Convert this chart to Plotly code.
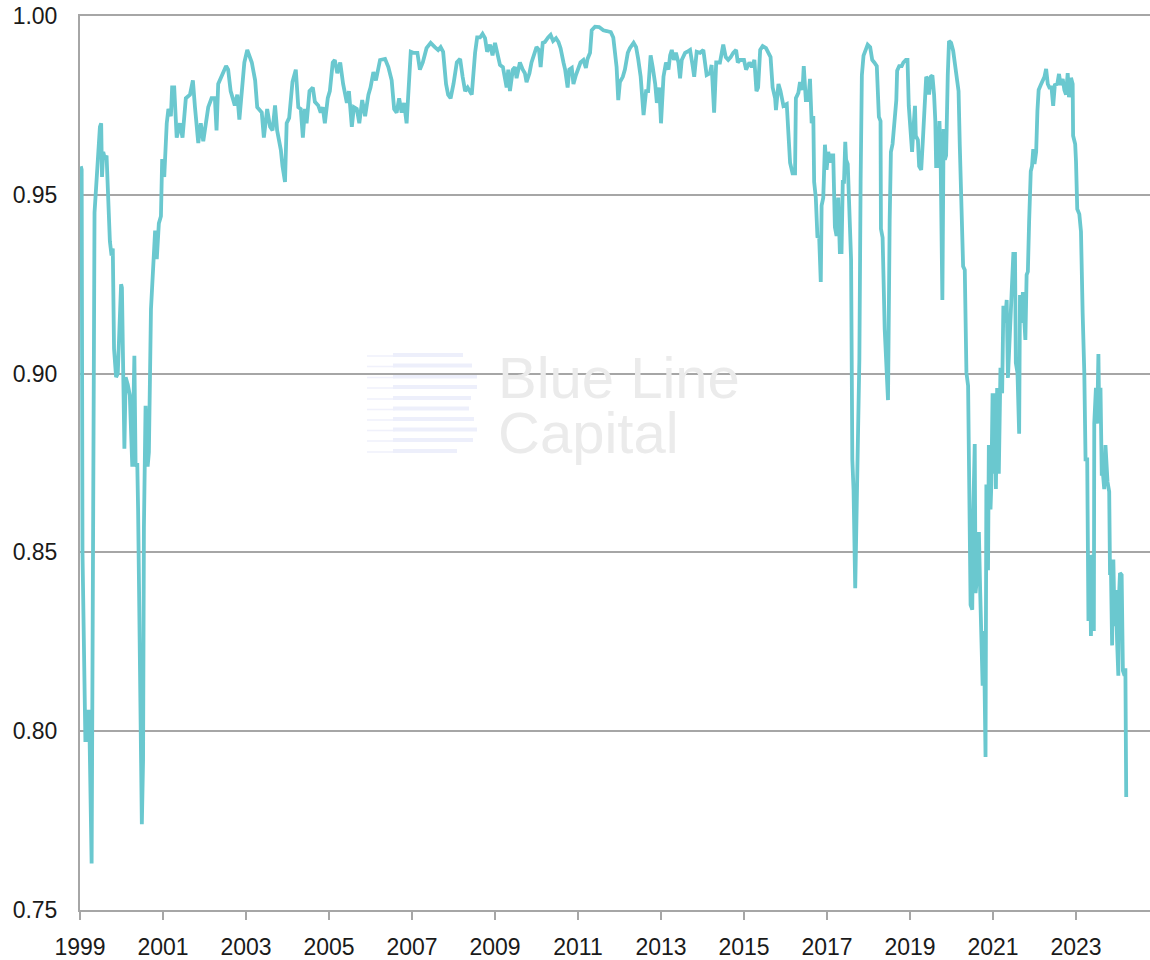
import plotly.graph_objects as go

# Decimal-year positions and correlation values
years = [
    1999.02, 1999.04, 1999.06, 1999.10, 1999.13, 1999.16, 1999.19, 1999.22, 1999.28, 1999.35,
    1999.40, 1999.44, 1999.48, 1999.51, 1999.53, 1999.56, 1999.60, 1999.64, 1999.68, 1999.72,
    1999.76, 1999.79, 1999.82, 1999.87, 1999.91, 1999.95, 1999.99, 2000.01, 2000.04, 2000.07,
    2000.10, 2000.15, 2000.20, 2000.26, 2000.31, 2000.34, 2000.38, 2000.40, 2000.49, 2000.52,
    2000.54, 2000.58, 2000.63, 2000.66, 2000.71, 2000.77, 2000.81, 2000.85, 2000.90, 2000.95,
    2000.98, 2001.03, 2001.09, 2001.13, 2001.19, 2001.22, 2001.27, 2001.33, 2001.41, 2001.47,
    2001.55, 2001.65, 2001.72, 2001.77, 2001.85, 2001.91, 2001.97, 2002.09, 2002.17, 2002.25,
    2002.29, 2002.33, 2002.41, 2002.52, 2002.57, 2002.63, 2002.73, 2002.79, 2002.84, 2002.90,
    2002.96, 2003.03, 2003.14, 2003.22, 2003.27, 2003.38, 2003.43, 2003.51, 2003.58, 2003.64,
    2003.70, 2003.75, 2003.84, 2003.88, 2003.94, 2003.98, 2004.04, 2004.12, 2004.20, 2004.26,
    2004.32, 2004.37, 2004.42, 2004.46, 2004.53, 2004.61, 2004.66, 2004.74, 2004.80, 2004.85,
    2004.90, 2004.97, 2005.02, 2005.09, 2005.14, 2005.20, 2005.27, 2005.34, 2005.43, 2005.48,
    2005.55, 2005.60, 2005.67, 2005.73, 2005.80, 2005.87, 2005.95, 2006.00, 2006.07, 2006.13,
    2006.23, 2006.35, 2006.43, 2006.51, 2006.57, 2006.63, 2006.69, 2006.75, 2006.81, 2006.87,
    2006.97, 2007.03, 2007.13, 2007.19, 2007.26, 2007.35, 2007.45, 2007.55, 2007.63, 2007.69,
    2007.75, 2007.82, 2007.87, 2007.93, 2008.00, 2008.08, 2008.16, 2008.22, 2008.28, 2008.34,
    2008.40, 2008.44, 2008.52, 2008.57, 2008.64, 2008.70, 2008.76, 2008.81, 2008.88, 2008.94,
    2009.00, 2009.06, 2009.12, 2009.19, 2009.24, 2009.28, 2009.32, 2009.36, 2009.43, 2009.48,
    2009.52, 2009.60, 2009.67, 2009.72, 2009.76, 2009.83, 2009.88, 2009.94, 2010.00, 2010.06,
    2010.10, 2010.15, 2010.20, 2010.28, 2010.34, 2010.40, 2010.47, 2010.53, 2010.58, 2010.65,
    2010.69, 2010.75, 2010.79, 2010.85, 2010.89, 2010.95, 2011.01, 2011.06, 2011.13, 2011.19,
    2011.23, 2011.29, 2011.33, 2011.41, 2011.51, 2011.61, 2011.69, 2011.79, 2011.85, 2011.89,
    2011.93, 2011.97, 2012.01, 2012.08, 2012.13, 2012.20, 2012.25, 2012.34, 2012.40, 2012.45,
    2012.51, 2012.58, 2012.64, 2012.69, 2012.75, 2012.80, 2012.86, 2012.90, 2012.96, 2013.00,
    2013.06, 2013.12, 2013.18, 2013.22, 2013.26, 2013.31, 2013.36, 2013.42, 2013.46, 2013.50,
    2013.58, 2013.63, 2013.70, 2013.76, 2013.80, 2013.86, 2013.94, 2014.02, 2014.10, 2014.18,
    2014.22, 2014.28, 2014.33, 2014.42, 2014.50, 2014.56, 2014.62, 2014.68, 2014.74, 2014.81,
    2014.85, 2014.90, 2015.00, 2015.05, 2015.13, 2015.19, 2015.25, 2015.30, 2015.34, 2015.39,
    2015.45, 2015.53, 2015.59, 2015.64, 2015.69, 2015.75, 2015.77, 2015.83, 2015.88, 2015.95,
    2016.03, 2016.07, 2016.11, 2016.17, 2016.23, 2016.25, 2016.31, 2016.35, 2016.41, 2016.44,
    2016.49, 2016.55, 2016.59, 2016.63, 2016.67, 2016.69, 2016.73, 2016.77, 2016.81, 2016.85,
    2016.87, 2016.91, 2016.95, 2016.99, 2017.03, 2017.07, 2017.11, 2017.15, 2017.19, 2017.23,
    2017.27, 2017.31, 2017.35, 2017.38, 2017.41, 2017.44, 2017.46, 2017.50, 2017.54, 2017.58,
    2017.61, 2017.64, 2017.68, 2017.72, 2017.75, 2017.78, 2017.81, 2017.84, 2017.88, 2017.93,
    2017.98, 2018.04, 2018.09, 2018.14, 2018.20, 2018.25, 2018.29, 2018.30, 2018.34, 2018.39,
    2018.43, 2018.47, 2018.51, 2018.54, 2018.58, 2018.61, 2018.65, 2018.67, 2018.69, 2018.74,
    2018.80, 2018.84, 2018.90, 2018.94, 2018.97, 2019.02, 2019.05, 2019.08, 2019.12, 2019.14,
    2019.19, 2019.22, 2019.27, 2019.31, 2019.34, 2019.39, 2019.43, 2019.46, 2019.50, 2019.54,
    2019.58, 2019.61, 2019.63, 2019.67, 2019.71, 2019.74, 2019.78, 2019.81, 2019.84, 2019.87,
    2019.91, 2019.94, 2019.99, 2020.04, 2020.07, 2020.12, 2020.17, 2020.20, 2020.24, 2020.28,
    2020.32, 2020.36, 2020.40, 2020.43, 2020.46, 2020.50, 2020.52, 2020.56, 2020.58, 2020.62,
    2020.66, 2020.69, 2020.72, 2020.75, 2020.78, 2020.82, 2020.84, 2020.88, 2020.90, 2020.94,
    2020.96, 2020.99, 2021.02, 2021.05, 2021.07, 2021.10, 2021.14, 2021.18, 2021.22, 2021.25,
    2021.29, 2021.33, 2021.36, 2021.41, 2021.45, 2021.49, 2021.53, 2021.55, 2021.59, 2021.63,
    2021.65, 2021.69, 2021.72, 2021.75, 2021.78, 2021.81, 2021.84, 2021.87, 2021.91, 2021.94,
    2021.97, 2022.00, 2022.04, 2022.07, 2022.10, 2022.15, 2022.20, 2022.24, 2022.28, 2022.32,
    2022.36, 2022.41, 2022.45, 2022.49, 2022.55, 2022.59, 2022.63, 2022.68, 2022.72, 2022.76,
    2022.80, 2022.83, 2022.88, 2022.92, 2022.93, 2022.98, 2023.00, 2023.03, 2023.08, 2023.12,
    2023.16, 2023.20, 2023.23, 2023.27, 2023.30, 2023.34, 2023.36, 2023.40, 2023.43, 2023.44,
    2023.48, 2023.51, 2023.54, 2023.56, 2023.59, 2023.62, 2023.65, 2023.68, 2023.71, 2023.76,
    2023.80, 2023.82, 2023.84, 2023.87, 2023.90, 2023.93, 2023.96, 2023.99, 2024.02, 2024.04,
    2024.06, 2024.10, 2024.13, 2024.17, 2024.19, 2024.21,
]

correlation = [
    0.958, 0.957, 0.850, 0.806, 0.797, 0.806, 0.797, 0.806, 0.763, 0.945,
    0.955, 0.960, 0.969, 0.970, 0.955, 0.962, 0.960, 0.961, 0.951, 0.937,
    0.933, 0.935, 0.907, 0.899, 0.900, 0.916, 0.925, 0.924, 0.900, 0.879,
    0.899, 0.897, 0.894, 0.874, 0.905, 0.874, 0.875, 0.862, 0.774, 0.792,
    0.857, 0.891, 0.874, 0.878, 0.918, 0.930, 0.940, 0.932, 0.942, 0.944,
    0.960, 0.955, 0.970, 0.974, 0.972, 0.980, 0.980, 0.966, 0.970, 0.966,
    0.977, 0.978, 0.982, 0.9745, 0.9645, 0.970, 0.965, 0.9745, 0.977, 0.977,
    0.968, 0.981, 0.983, 0.986, 0.985, 0.979, 0.975, 0.978, 0.971, 0.980,
    0.987, 0.9905, 0.987, 0.982, 0.9745, 0.973, 0.966, 0.974, 0.969, 0.968,
    0.975, 0.968, 0.9625, 0.958, 0.9536, 0.970, 0.9715, 0.9816, 0.985, 0.9745,
    0.974, 0.966, 0.974, 0.970, 0.979, 0.980, 0.976, 0.975, 0.973, 0.9745,
    0.970, 0.977, 0.979, 0.987, 0.9877, 0.984, 0.987, 0.981, 0.9757, 0.979,
    0.969, 0.9745, 0.974, 0.970, 0.9765, 0.972, 0.978, 0.980, 0.9843, 0.982,
    0.9877, 0.988, 0.9857, 0.982, 0.974, 0.973, 0.977, 0.973, 0.9757, 0.970,
    0.990, 0.9897, 0.9897, 0.985, 0.987, 0.991, 0.9925, 0.9913, 0.9905, 0.9913,
    0.990, 0.981, 0.978, 0.977, 0.981, 0.987, 0.988, 0.983, 0.979, 0.980,
    0.9785, 0.978, 0.9897, 0.994, 0.994, 0.995, 0.9938, 0.990, 0.992, 0.989,
    0.9925, 0.9897, 0.9863, 0.9857, 0.983, 0.980, 0.985, 0.979, 0.985, 0.9857,
    0.9826, 0.987, 0.985, 0.984, 0.9815, 0.984, 0.987, 0.989, 0.9913, 0.9905,
    0.9857, 0.9925, 0.9927, 0.994, 0.9947, 0.993, 0.9938, 0.9927, 0.991, 0.987,
    0.985, 0.980, 0.985, 0.9855, 0.981, 0.9835, 0.9855, 0.987, 0.9877, 0.9855,
    0.988, 0.9897, 0.996, 0.997, 0.9969, 0.996, 0.9958, 0.9955, 0.994, 0.9905,
    0.9857, 0.9765, 0.9815, 0.983, 0.985, 0.9897, 0.991, 0.9925, 0.9913, 0.988,
    0.983, 0.9723, 0.979, 0.979, 0.989, 0.9857, 0.981, 0.9757, 0.980, 0.970,
    0.983, 0.987, 0.985, 0.989, 0.9905, 0.9877, 0.9897, 0.987, 0.9826, 0.9877,
    0.9897, 0.990, 0.9905, 0.9863, 0.983, 0.990, 0.9897, 0.9905, 0.9835, 0.984,
    0.9863, 0.973, 0.987, 0.987, 0.992, 0.9885, 0.9877, 0.9885, 0.9897, 0.9905,
    0.987, 0.9877, 0.9877, 0.985, 0.987, 0.9857, 0.9877, 0.979, 0.980, 0.9905,
    0.9916, 0.991, 0.9897, 0.9885, 0.980, 0.977, 0.9737, 0.981, 0.979, 0.9749,
    0.9754, 0.9684, 0.959, 0.956, 0.956, 0.977, 0.9785, 0.9815, 0.9793, 0.986,
    0.9765, 0.9765, 0.9824, 0.970, 0.972, 0.9536, 0.9492, 0.938, 0.9385, 0.9256,
    0.947, 0.9492, 0.964, 0.957, 0.962, 0.959, 0.961, 0.961, 0.941, 0.9385,
    0.9492, 0.934, 0.934, 0.9536, 0.9536, 0.9648, 0.9598, 0.9586, 0.9405, 0.932,
    0.876, 0.8674, 0.840, 0.8695, 0.888, 0.904, 0.9536, 0.9834, 0.9889, 0.9903,
    0.992, 0.9913, 0.9877, 0.987, 0.986, 0.9718, 0.9706, 0.9405, 0.938, 0.9125,
    0.904, 0.8926, 0.9428, 0.962, 0.9642, 0.968, 0.9718, 0.9765, 0.9847, 0.986,
    0.986, 0.987, 0.9877, 0.9877, 0.9749, 0.9684, 0.962, 0.968, 0.9749, 0.9665,
    0.9653, 0.958, 0.957, 0.9653, 0.974, 0.983, 0.9824, 0.978, 0.983, 0.9834,
    0.978, 0.9706, 0.958, 0.958, 0.9706, 0.958, 0.9206, 0.9684, 0.9598, 0.961,
    0.9834, 0.993, 0.9925, 0.9903, 0.9877, 0.984, 0.979, 0.9636, 0.948, 0.930,
    0.929, 0.9002, 0.8966, 0.8493, 0.8353, 0.834, 0.859, 0.8803, 0.8386, 0.8437,
    0.8557, 0.8395, 0.8252, 0.8127, 0.828, 0.7928, 0.869, 0.845, 0.880, 0.862,
    0.869, 0.8945, 0.872, 0.8945, 0.8677, 0.896, 0.872, 0.9016, 0.8945, 0.919,
    0.9142, 0.9206, 0.8988, 0.9142, 0.926, 0.9335, 0.9335, 0.903, 0.9002, 0.8832,
    0.922, 0.9142, 0.9228, 0.9156, 0.9094, 0.9276, 0.9285, 0.9424, 0.9566, 0.958,
    0.9628, 0.9586, 0.962, 0.9734, 0.9793, 0.9807, 0.982, 0.983, 0.9852, 0.981,
    0.980, 0.980, 0.9749, 0.9807, 0.981, 0.9838, 0.9807, 0.9824, 0.9793, 0.978,
    0.984, 0.9773, 0.9827, 0.981, 0.9665, 0.9642, 0.9594, 0.946, 0.9446, 0.9397,
    0.917, 0.9002, 0.876, 0.876, 0.8308, 0.8493, 0.8266, 0.8493, 0.828, 0.886,
    0.896, 0.886, 0.9055, 0.8874, 0.896, 0.872, 0.872, 0.8677, 0.880, 0.8697,
    0.867, 0.8437, 0.847, 0.824, 0.848, 0.8294, 0.8395, 0.8252, 0.8155, 0.8386,
    0.8442, 0.8437, 0.8169, 0.8155, 0.8176, 0.7816,
]

x_ticks = [1999, 2001, 2003, 2005, 2007, 2009, 2011, 2013, 2015, 2017, 2019, 2021, 2023]
y_ticks = [0.75, 0.80, 0.85, 0.90, 0.95, 1.00]

LINE = "#6AC8CF"
GRID = "#A6A6A6"
FONT = "Liberation Sans, Arial, sans-serif"

fig = go.Figure()
fig.add_trace(go.Scatter(
    x=years, y=correlation, mode="lines",
    line=dict(color=LINE, width=3.8),
    hoverinfo="skip", showlegend=False,
))

FIG_W, FIG_H = 1150, 960
L, R, T, B = 80, 1150, 16, 910   # plot area in pixels
W, H = R - L, B - T

def px(xp):
    return (xp - L) / W

def py(yp):
    return (B - yp) / H

shapes = []
stripe_rows = [(355, 463), (365.5, 472), (376.5, 477), (387, 477), (398, 471),
               (408.5, 469), (419, 474), (429.5, 477), (440, 473), (451, 457)]
for yy, xr in stripe_rows:
    shapes.append(dict(type="line", xref="paper", yref="paper",
                       x0=px(367), x1=px(395), y0=py(yy + 1), y1=py(yy + 1),
                       line=dict(color="#F0F1FB", width=1.6), layer="below"))
    shapes.append(dict(type="line", xref="paper", yref="paper",
                       x0=px(393), x1=px(xr), y0=py(yy), y1=py(yy),
                       line=dict(color="#EDEFFB", width=4), layer="below"))

wm_font = dict(family="Liberation Sans, Arial, sans-serif", size=58, color="#EBEBEB")
annotations = [
    dict(text="Blue Line", xref="paper", yref="paper", x=px(496), y=py(377),
         xanchor="left", yanchor="middle", showarrow=False, font=wm_font),
    dict(text="Capital", xref="paper", yref="paper", x=px(496), y=py(432),
         xanchor="left", yanchor="middle", showarrow=False, font=wm_font),
]

fig.update_layout(
    width=FIG_W, height=FIG_H,
    margin=dict(l=L, r=FIG_W - R, t=T, b=FIG_H - B, pad=0),
    paper_bgcolor="white", plot_bgcolor="white",
    shapes=shapes, annotations=annotations,
    font=dict(family=FONT, size=23, color="#1a1a1a"),
    xaxis=dict(
        range=[1999, 1999 + W / 41.5],
        tickmode="array", tickvals=x_ticks, ticktext=[str(v) for v in x_ticks],
        showgrid=False, zeroline=False, automargin=False,
        showline=True, linecolor=GRID, linewidth=2, mirror=True,
        ticks="outside", ticklen=8, tickwidth=1.5, tickcolor=GRID,
        ticklabelstandoff=7,
        tickfont=dict(family=FONT, size=23, color="#1a1a1a"),
    ),
    yaxis=dict(
        range=[0.75, 1.0],
        tickmode="array", tickvals=y_ticks, ticktext=[f"{v:.2f}" for v in y_ticks],
        showgrid=True, gridcolor=GRID, gridwidth=1.5,
        zeroline=False, automargin=False,
        showline=True, linecolor=GRID, linewidth=2,
        ticks="", ticklabelstandoff=16,
        tickfont=dict(family=FONT, size=23, color="#1a1a1a"),
    ),
)

# remove the browser's default 8px body margin so the figure sits at the page origin
fig.write_html(
    "out.html",
    config={"displayModeBar": False},
    post_script="document.body.style.margin='0';document.body.style.padding='0';",
)
